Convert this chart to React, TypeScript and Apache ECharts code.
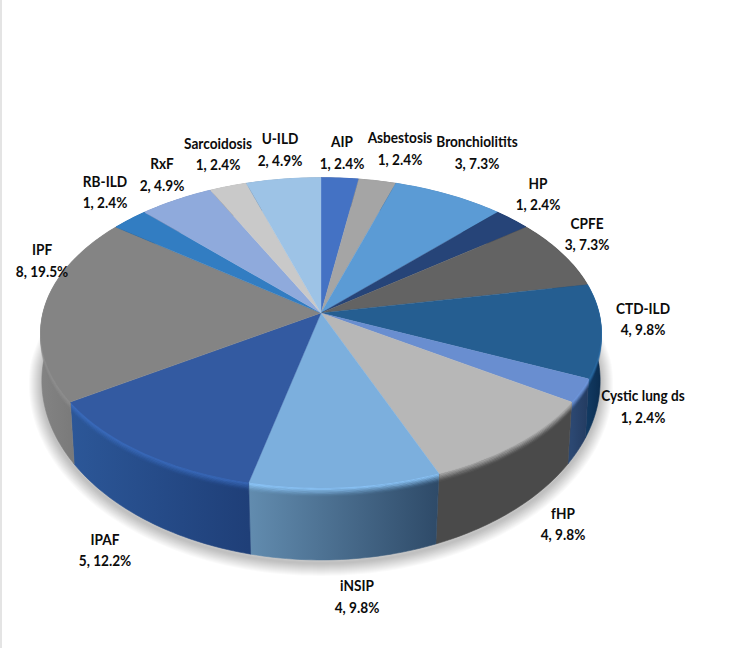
import React, { useEffect, useRef } from "react";
import * as echarts from "echarts";

const categories = ["AIP", "Asbestosis", "Bronchiolitits", "HP", "CPFE", "CTD-ILD", "Cystic lung ds", "fHP", "iNSIP", "IPAF", "IPF", "RB-ILD", "RxF", "Sarcoidosis", "U-ILD"];
const values = [1, 1, 3, 1, 3, 4, 1, 4, 4, 5, 8, 1, 2, 1, 2];

const topColors = ["#4472C4", "#A5A5A5", "#5B9BD5", "#264478", "#636363", "#255E91", "#698ED0", "#B7B7B7", "#7CAFDD", "#335AA1", "#848484", "#327DC2", "#8FAADC", "#C9C9C9", "#9DC3E6"];
const edgeColors = ["#4472C4", "#A5A5A5", "#5B9BD5", "#264478", "#636363", "#2A6AA2", "#7098DE", "#B0B0B0", "#90CBFF", "#3B6CBE", "#8E8E8E", "#327DC2", "#8FAADC", "#C9C9C9", "#9DC3E6"];
const wallStart = ["#222", "#222", "#222", "#222", "#333", "#123A62", "#2C4872", "#4A4A4A", "#628CAF", "#2C5798", "#838383", "#222", "#222", "#222", "#222"];
const wallEnd = ["#222", "#222", "#222", "#222", "#333", "#0B2D50", "#233B60", "#4A4A4A", "#2E4A68", "#1F3F78", "#6E6E6E", "#222", "#222", "#222", "#222"];

const labelCenters = [
  [342, 152], [400, 148], [477, 152], [538, 193.5], [587, 233.5], [643, 318.5], [643, 406], [563, 523.5],
  [357, 596], [105, 549.5], [42, 260], [105, 191.5], [162, 174], [218, 153.5], [280, 149],
];

const total = values.reduce((a, b) => a + b, 0);
const cum: number[] = [];
values.reduce((acc, v, i) => ((cum[i] = acc), acc + v), 0);

// plane-to-screen projection of the tilted disc
const CX = 321, CY = 313, K = 0.129, A = 152.4, B = 277.7;
const top = (t: number) => {
  const u = Math.sin(t), v = -Math.cos(t), w = 1 - K * v;
  return [CX + (B * u) / w, CY + (A * v) / w, v];
};
const bottom = (t: number) => {
  const p = top(t);
  return [CX + (p[0] - CX) * (1 - 0.028 * Math.abs(p[2])), p[1] + 50 + 22 * p[2]];
};
const arc = (a: number, b: number, fn: (t: number) => number[]) => {
  const n = Math.max(2, Math.ceil((b - a) / 0.02));
  const out: number[][] = [];
  for (let i = 0; i <= n; i++) {
    const q = fn(a + ((b - a) * i) / n);
    out.push([q[0], q[1]]);
  }
  return out;
};
const angle = (i: number) => {
  const a = (cum[i] / total) * Math.PI * 2;
  return [a, a + (values[i] / total) * Math.PI * 2];
};

const renderShadow = (params: any) => {
  if (params.dataIndex !== 0) return { type: "group", children: [] };
  const outline = arc(0, Math.PI * 2, bottom).map((p) => [p[0], p[1] + 3]);
  const children: any[] = [];
  for (let s = 13; s >= 1; s--) {
    children.push({
      type: "polygon",
      shape: { points: outline },
      style: { fill: "none", stroke: "#000", opacity: 0.02, lineWidth: s * 2, lineJoin: "round" },
    });
  }
  return { type: "group", children };
};

const renderWall = (params: any) => {
  const i = params.dataIndex;
  const [a, b] = angle(i);
  const topArc = arc(a, b, top);
  const botArc = arc(a, b, bottom);
  const xs = topArc.map((p) => p[0]);
  const x0 = Math.min(...xs), x1 = Math.max(...xs);
  const fill = new echarts.graphic.LinearGradient(x0, 0, x1, 0, [
    { offset: 0, color: wallStart[i] },
    { offset: 1, color: wallEnd[i] },
  ], true);
  const children: any[] = [{
    type: "polygon",
    shape: { points: [...topArc, ...botArc.reverse()] },
    style: { fill, stroke: fill, lineWidth: 0.6 },
  }];
  const STRIPS = 7;
  for (let s = STRIPS - 1; s >= 0; s--) {
    children.push({
      type: "polyline",
      shape: { points: topArc.map((p) => [p[0], p[1] + s * 1.3]) },
      style: { fill: "none", stroke: edgeColors[i], lineWidth: 1.6, opacity: Math.pow(1 - s / STRIPS, 1.6) },
    });
  }
  return { type: "group", children };
};

const renderTop = (params: any) => {
  const i = params.dataIndex;
  const [a, b] = angle(i);
  return {
    type: "polygon",
    shape: { points: [[CX, CY], ...arc(a, b, top)] },
    style: { fill: topColors[i], stroke: topColors[i], lineWidth: 0.4 },
  };
};

const renderLabel = (params: any, api: any) => {
  const i = params.dataIndex;
  const v = api.value(0);
  return {
    type: "text",
    x: labelCenters[i][0],
    y: labelCenters[i][1],
    scaleX: 0.88,
    style: {
      text: `${categories[i]}\n${v}, ${((v / total) * 100).toFixed(1)}%`,
      fill: "#0c0c0c",
      fontFamily: "Lato",
      fontWeight: 700,
      fontSize: 15.5,
      lineHeight: 21.5,
      align: "center",
      verticalAlign: "middle",
    },
  };
};

export default function App() {
  const ref = useRef<HTMLDivElement>(null);
  useEffect(() => {
    const chart = echarts.init(ref.current!, null, { renderer: "svg" });
    const data = values.map((v, i) => ({ name: categories[i], value: [v] }));
    const series = [renderShadow, renderWall, renderTop, renderLabel].map((renderItem, z) => ({
      type: "custom",
      coordinateSystem: "none",
      renderItem,
      data,
      z: z + 2,
      silent: true,
      clip: false,
    }));
    chart.setOption({ animation: false, backgroundColor: "#fff", series } as any);
    return () => chart.dispose();
  }, []);
  return (
    <div style={{ position: "absolute", left: 0, top: 0, width: 750, height: 648, background: "#fff" }}>
      <div ref={ref} style={{ width: 750, height: 648 }} />
      <div style={{ position: "absolute", left: 0, top: 0, width: 2, height: 648, background: "#e4e4e4" }} />
    </div>
  );
}
